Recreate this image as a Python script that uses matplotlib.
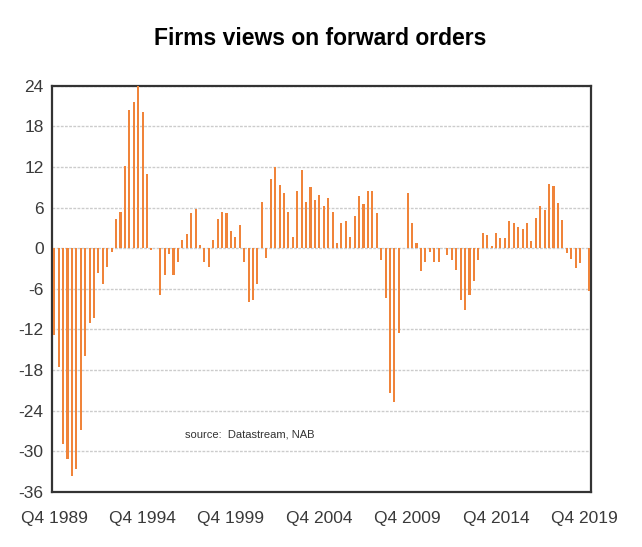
import numpy as np
import pandas as pd
import matplotlib
matplotlib.use('Agg')
import matplotlib.pyplot as plt

# NAB survey: net balance of firms reporting forward orders, quarterly Q4 1989 - Q1 2020
quarters = pd.period_range('1989Q4', '2020Q1', freq='Q')
forward_orders = [
    -12.8, -17.5, -28.9, -31.1, -33.6, -32.6, -26.9, -16.0, -11.1, -10.3,
    -3.6, -5.3, -2.8, -0.5, 4.3, 5.4, 12.1, 20.5, 21.6, 24.2,
    20.1, 11.0, -0.3, 0.0, -6.9, -4.0, -0.8, -4.0, -2.0, 1.2,
    2.1, 5.2, 5.8, 0.5, -2.0, -2.8, 1.2, 4.3, 5.4, 5.2,
    2.6, 1.6, 3.5, -2.0, -8.0, -7.6, -5.3, 6.8, -1.4, 10.2,
    12.0, 9.4, 8.1, 5.4, 1.6, 8.5, 11.5, 6.8, 9.0, 7.2,
    7.9, 6.3, 7.4, 5.4, 0.7, 3.8, 4.0, 1.6, 4.7, 7.7,
    6.6, 8.5, 8.5, 5.2, -1.7, -7.3, -21.4, -22.8, -12.6, 0.0,
    8.1, 3.8, 0.7, -3.4, -2.0, -0.6, -2.0, -2.0, 0.0, -1.0,
    -1.8, -3.2, -7.7, -9.2, -6.9, -4.9, -1.8, 2.3, 2.0, 0.4,
    2.3, 1.5, 1.5, 4.0, 3.7, 3.1, 2.9, 3.7, 1.1, 4.5,
    6.2, 5.7, 9.5, 9.2, 6.7, 4.2, -0.7, -1.6, -2.9, -2.2,
    0.0, -6.3,
]
tick_labels = ['Q4 1989', 'Q4 1994', 'Q4 1999', 'Q4 2004', 'Q4 2009', 'Q4 2014', 'Q4 2019']
y_ticks = [-36, -30, -24, -18, -12, -6, 0, 6, 12, 18, 24]

plt.rcParams['font.family'] = ['Liberation Sans', 'DejaVu Sans']

fig = plt.figure(figsize=(6.42, 5.47), dpi=100)
ax = fig.add_axes([0.081, 0.101, 0.8396, 0.742])

x = np.arange(len(quarters))
ax.bar(x, forward_orders, width=0.47, color='#F0843A', linewidth=0, zorder=3)

ax.set_xlim(-0.5, len(quarters) - 0.5)
ax.set_ylim(-36, 24)
ax.set_yticks(y_ticks)
ax.set_yticklabels([str(v) for v in y_ticks])
ax.set_xticks(x[::20])
ax.set_xticklabels(tick_labels)
ax.tick_params(axis='both', length=0, labelsize=12.5, colors='#3a3a3a')
ax.tick_params(axis='x', pad=14)
ax.tick_params(axis='y', pad=6)

ax.yaxis.grid(True, color='#cccccc', linestyle=(0, (2, 1)), linewidth=1.0, zorder=0)
for s in ax.spines.values():
    s.set_color('#333333')
    s.set_linewidth(1.6)

ax.text(29.6, -27.5, 'source:  Datastream, NAB', fontsize=8, color='#333333', va='center')

fig.text(0.498, 0.93, 'Firms views on forward orders', ha='center', va='center',
         fontsize=16.5, fontweight='bold', color='black')

fig.savefig('out.png', dpi=100)
